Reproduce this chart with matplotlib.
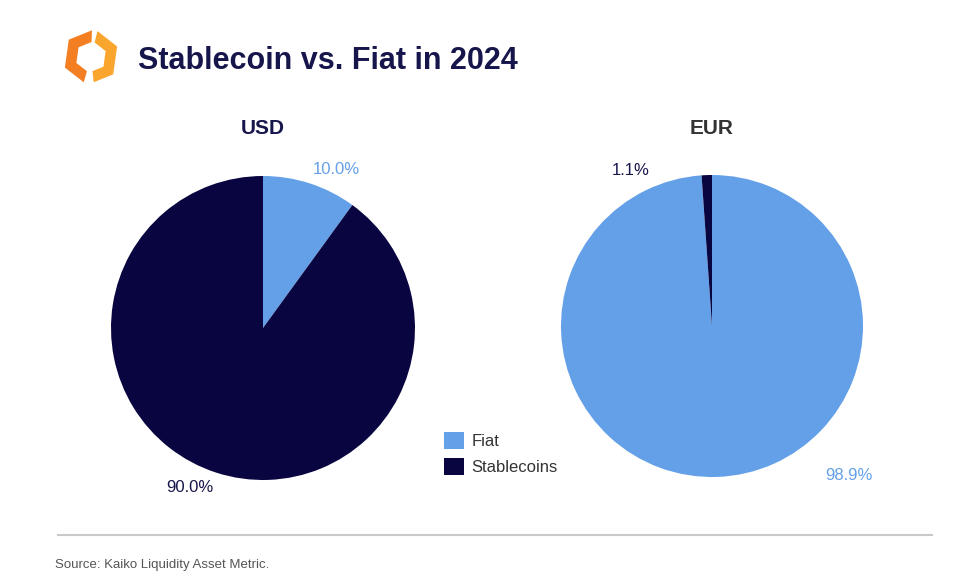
import numpy as np
import matplotlib
matplotlib.use("Agg")
import matplotlib.pyplot as plt
from matplotlib.patches import Polygon

plt.rcParams['font.family'] = ['Liberation Sans', 'DejaVu Sans']

# --- data -----------------------------------------------------------------
CATEGORIES = ["Fiat", "Stablecoins"]
USD_SHARE = [10.0, 90.0]
EUR_SHARE = [98.9, 1.1]

TITLE = "Stablecoin vs. Fiat in 2024"
SOURCE = "Source: Kaiko Liquidity Asset Metric."

# --- style ------------------------------------------------------------------
FIAT_C = "#64A0E8"
STABLE_C = "#080540"
NAVY_TXT = "#17164C"
W, H = 977, 588


def px_axes(fig, cx, cy, half):
    """axes centred on pixel (cx, cy) with half-size `half` px"""
    return fig.add_axes([(cx - half) / W, 1 - (cy + half) / H,
                         2 * half / W, 2 * half / H])


def hex_band(a1, a2, r_out, r_in, rot):
    """band along a pointy-top hexagon outline between angles a1..a2 (deg)"""
    def pt(theta, R):
        t = np.radians(theta)
        local = ((theta - 30) % 60) - 30
        d = R * np.cos(np.radians(30)) / np.cos(np.radians(local))
        return d * np.cos(t), d * np.sin(t)
    verts = [30 + 60 * k for k in range(-7, 7)]
    angs = [a1] + [a for a in verts if a1 < a < a2] + [a2]
    outer = [pt(a, r_out) for a in angs]
    inner = [pt(a, r_in) for a in angs[::-1]]
    pts = np.array(outer + inner)
    c, s = np.cos(np.radians(rot)), np.sin(np.radians(rot))
    return pts @ np.array([[c, s], [-s, c]])


fig = plt.figure(figsize=(W / 100, H / 100), dpi=100)

# logo
lax = fig.add_axes([58 / W, 1 - 88 / H, 66 / W, 62 / H])
lax.set_xlim(-1.1, 1.1)
lax.set_ylim(-1.1, 1.1)
lax.set_aspect("equal")
lax.axis("off")
lax.add_patch(Polygon(hex_band(96, 262, 1.0, 0.56, -8), closed=True,
                      color="#F47E22", lw=0))
lax.add_patch(Polygon(hex_band(-76, 84, 1.0, 0.56, -8), closed=True,
                      color="#F9A52E", lw=0))

fig.text(138 / W, 1 - 61 / H, TITLE, fontsize=22, fontweight="bold",
         color=NAVY_TXT, va="center", ha="left")

# pies
pies = [
    ("USD", USD_SHARE, 263, 328, 152, NAVY_TXT,
     [(0.48, 1.04), (-0.48, -1.05)]),
    ("EUR", EUR_SHARE, 712, 326, 151, "#333333",
     [(0.91, -0.99), (-0.54, 1.03)]),
]
wedges_for_legend = None
for name, share, cx, cy, r, tcol, label_pos in pies:
    ax = px_axes(fig, cx, cy, 1.25 * r)
    wedges, _ = ax.pie(share, colors=[FIAT_C, STABLE_C], startangle=90,
                       counterclock=False, radius=1.0,
                       wedgeprops=dict(linewidth=0))
    ax.set_xlim(-1.25, 1.25)
    ax.set_ylim(-1.25, 1.25)
    for val, col, (lx, ly) in zip(share, [FIAT_C, NAVY_TXT], label_pos):
        ax.text(lx, ly, f"{val:.1f}%", fontsize=12, color=col,
                ha="center", va="center")
    fig.text(cx / W, 1 - 129 / H, name, fontsize=15, fontweight="bold",
             color=tcol, ha="center", va="center")
    if wedges_for_legend is None:
        wedges_for_legend = wedges

fig.legend(wedges_for_legend, CATEGORIES, loc="upper left",
           bbox_to_anchor=(444 / W, 1 - 432 / H), frameon=False,
           fontsize=12, handlelength=1.18, handleheight=1.18,
           handletextpad=0.45, labelspacing=0.55, borderpad=0,
           borderaxespad=0, labelcolor="#333333")

# footer rule + source
fig.add_artist(plt.Line2D([58 / W, 932 / W], [1 - 535 / H, 1 - 535 / H],
                          color="#C9C9C9", lw=1.5))
fig.text(55 / W, 1 - 565 / H, SOURCE, fontsize=9.5, color="#555555",
         ha="left", va="center")

fig.savefig("out.png", dpi=100, facecolor="white")
